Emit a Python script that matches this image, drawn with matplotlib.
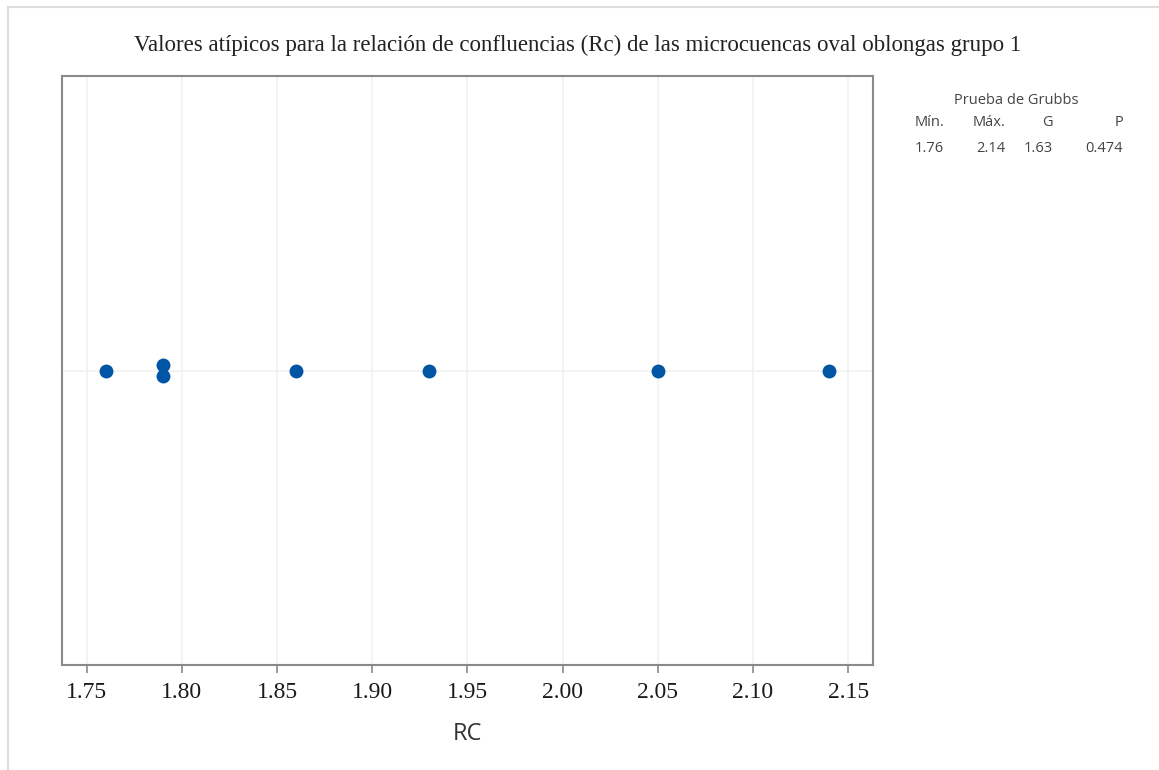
import matplotlib
matplotlib.use('Agg')
import matplotlib.pyplot as plt
from matplotlib.lines import Line2D
import numpy as np

# ── Data ──────────────────────────────────────────────────────────────────────
rc_values = [1.76, 1.79, 1.79, 1.86, 1.93, 2.05, 2.14]
x_ticks   = [1.75, 1.80, 1.85, 1.90, 1.95, 2.00, 2.05, 2.10, 2.15]

grubbs_headers = ['Mín.', 'Máx.', 'G', 'P']
grubbs_values  = ['1.76', '2.14', '1.63', '0.474']

TITLE = 'Valores atípicos para la relación de confluencias (Rc) de las microcuencas oval oblongas grupo 1'
DOT_COLOR = '#0055A5'
GRID_COLOR = '#F1F1F1'
SPINE_COLOR = '#8A8A8A'
W, H = 1159, 770

# stack repeated values like a dot plot
seen = {}
for v in rc_values:
    seen[v] = seen.get(v, 0) + 1
counter = {}
offsets = []
for v in rc_values:
    n = seen[v]
    k = counter.get(v, 0)
    counter[v] = k + 1
    offsets.append((k - (n - 1) / 2) * 0.038)

fig = plt.figure(figsize=(W/100, H/100), dpi=100)
ax = fig.add_axes([62/W, 1 - 665/H, (873-62)/W, (665-76)/H])

ax.scatter(rc_values, offsets, s=100, color=DOT_COLOR, zorder=3, linewidths=0)

ax.set_xlim(1.7370, 2.1631)
ax.set_ylim(-1, 1)
ax.set_xticks(x_ticks)
ax.set_xticklabels([f'{t:.2f}' for t in x_ticks], family='Liberation Serif', fontsize=17)
ax.set_yticks([0])
ax.tick_params(axis='y', length=0, labelleft=False)
ax.tick_params(axis='x', length=6, width=1.2, color=SPINE_COLOR, pad=6, labelcolor='#1a1a1a')
ax.grid(True, color=GRID_COLOR, linewidth=1.2, zorder=0)
ax.set_axisbelow(True)
for sp in ax.spines.values():
    sp.set_color(SPINE_COLOR)
    sp.set_linewidth(1.5)

ax.set_xlabel('RC', family='Open Sans', fontsize=17, color='#333333', labelpad=14)

fig.text(578/W, 1 - 45/H, TITLE, ha='center', va='center',
         family='Liberation Serif', fontsize=16.5, color='#222222')

# Grubbs test table
fig.text(1016/W, 1 - 100/H, 'Prueba de Grubbs', ha='center', va='center',
         family='Open Sans', fontsize=10.5, color='#444444')
col_right = [944, 1005, 1053, 1123]
for xr, h, v in zip(col_right, grubbs_headers, grubbs_values):
    fig.text(xr/W, 1 - 123/H, h, ha='right', va='center',
             family='Open Sans', fontsize=10.5, color='#444444')
    fig.text(xr/W, 1 - 148/H, v, ha='right', va='center',
             family='Open Sans', fontsize=10.5, color='#444444')

# light frame at top and left of the image
fig.add_artist(Line2D([8/W, 8/W], [0, 1 - 7/H], transform=fig.transFigure,
                      color='#DDDDDD', linewidth=1.5))
fig.add_artist(Line2D([8/W, 1], [1 - 7/H, 1 - 7/H], transform=fig.transFigure,
                      color='#DDDDDD', linewidth=1.5))

fig.savefig('out.png', dpi=100)
